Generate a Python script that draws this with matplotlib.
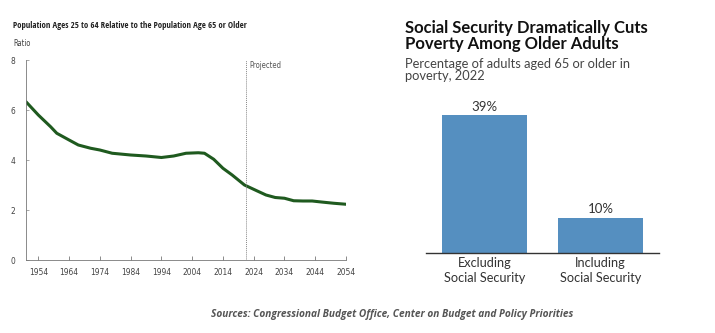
import matplotlib.pyplot as plt

# left panel: ratio of population 25-64 to population 65+
years = [1950, 1954, 1958, 1960, 1964, 1967, 1971, 1974, 1978, 1984, 1989, 1994,
         1998, 2002, 2006, 2008, 2011, 2014, 2017, 2021, 2025, 2028, 2031, 2034,
         2037, 2040, 2043, 2046, 2050, 2054]
ratio = [6.33, 5.8, 5.33, 5.07, 4.8, 4.6, 4.47, 4.4, 4.27, 4.2, 4.16, 4.1,
         4.16, 4.27, 4.29, 4.27, 4.03, 3.67, 3.4, 3.0, 2.77, 2.6, 2.5, 2.47,
         2.37, 2.36, 2.36, 2.32, 2.27, 2.23]
projected_year = 2021.5
year_ticks = [1954, 1964, 1974, 1984, 1994, 2004, 2014, 2024, 2034, 2044, 2054]
ratio_ticks = [0, 2, 4, 6, 8]

# right panel: poverty rate among adults 65+
bar_labels = ['Excluding\nSocial Security', 'Including\nSocial Security']
poverty = [39, 10]

fig = plt.figure(figsize=(7.15, 3.33), dpi=100)

ax = fig.add_axes([26 / 715, 1 - 260 / 333, 320 / 715, 200 / 333])
ax.plot(years, ratio, color='#1f5a1f', linewidth=2.2, solid_capstyle='round')
ax.axvline(projected_year, color='#888888', linewidth=0.7, linestyle=(0, (1, 1)))
ax.text(projected_year + 1, 7.8, 'Projected', fontsize=5.5, color='#555555',
        family='DejaVu Sans', stretch='condensed', va='center')
ax.set_xlim(1950, 2054)
ax.set_ylim(0, 8)
ax.set_xticks(year_ticks)
ax.set_yticks(ratio_ticks)
ax.tick_params(axis='x', direction='in', length=3, width=0.6, color='#777777', labelsize=6,
               labelcolor='#444444', pad=6)
ax.tick_params(axis='y', direction='in', length=2, width=0.6, color='#999999', labelsize=6,
               labelcolor='#444444', pad=8)
for lab in ax.get_xticklabels() + ax.get_yticklabels():
    lab.set_family('DejaVu Sans')
    lab.set_stretch('condensed')
for s in ['top', 'right']:
    ax.spines[s].set_visible(False)
for s in ['left', 'bottom']:
    ax.spines[s].set_color('#777777')
    ax.spines[s].set_linewidth(0.6)

fig.text(13 / 715, 1 - 25 / 333, 'Population Ages 25 to 64 Relative to the Population Age 65 or Older',
         fontsize=6.3, fontweight='bold', family='Open Sans Condensed', color='#222222', va='center')
fig.text(13 / 715, 1 - 43 / 333, 'Ratio', fontsize=5.5, family='DejaVu Sans', stretch='condensed',
         color='#444444', va='center')

bx = fig.add_axes([426 / 715, 1 - 253 / 333, 233 / 715, 159 / 333])
bars = bx.bar([0, 1], poverty, width=0.73, color='#558fc0')
for b, v in zip(bars, poverty):
    bx.text(b.get_x() + b.get_width() / 2, v + 0.7, f'{v}%', ha='center', va='bottom',
            fontsize=9.5, color='#333333', family='Lato')
bx.set_xlim(-0.5, 1.5)
bx.set_ylim(0, 45)
bx.set_xticks([0, 1])
bx.set_xticklabels(bar_labels, fontsize=9.2, color='#333333', family='Lato', linespacing=1.25)
bx.set_yticks([])
bx.tick_params(axis='x', length=0, pad=3)
for s in ['top', 'right', 'left']:
    bx.spines[s].set_visible(False)
bx.spines['bottom'].set_color('#333333')
bx.spines['bottom'].set_linewidth(1.0)

fig.text(405 / 715, 1 - 36 / 333, 'Social Security Dramatically Cuts\nPoverty Among Older Adults',
         fontsize=12, fontweight='bold', family='Lato', color='#111111', va='center',
         linespacing=1.05)
fig.text(405 / 715, 1 - 70 / 333, 'Percentage of adults aged 65 or older in\npoverty, 2022',
         fontsize=9.3, family='Lato', color='#444444', va='center', linespacing=1.1)

fig.text(392 / 715, 1 - 314 / 333,
         'Sources: Congressional Budget Office, Center on Budget and Policy Priorities',
         fontsize=7.3, style='italic', fontweight='bold', family='Open Sans', color='#555555',
         ha='center', va='center')

fig.savefig('out.png', dpi=100)
